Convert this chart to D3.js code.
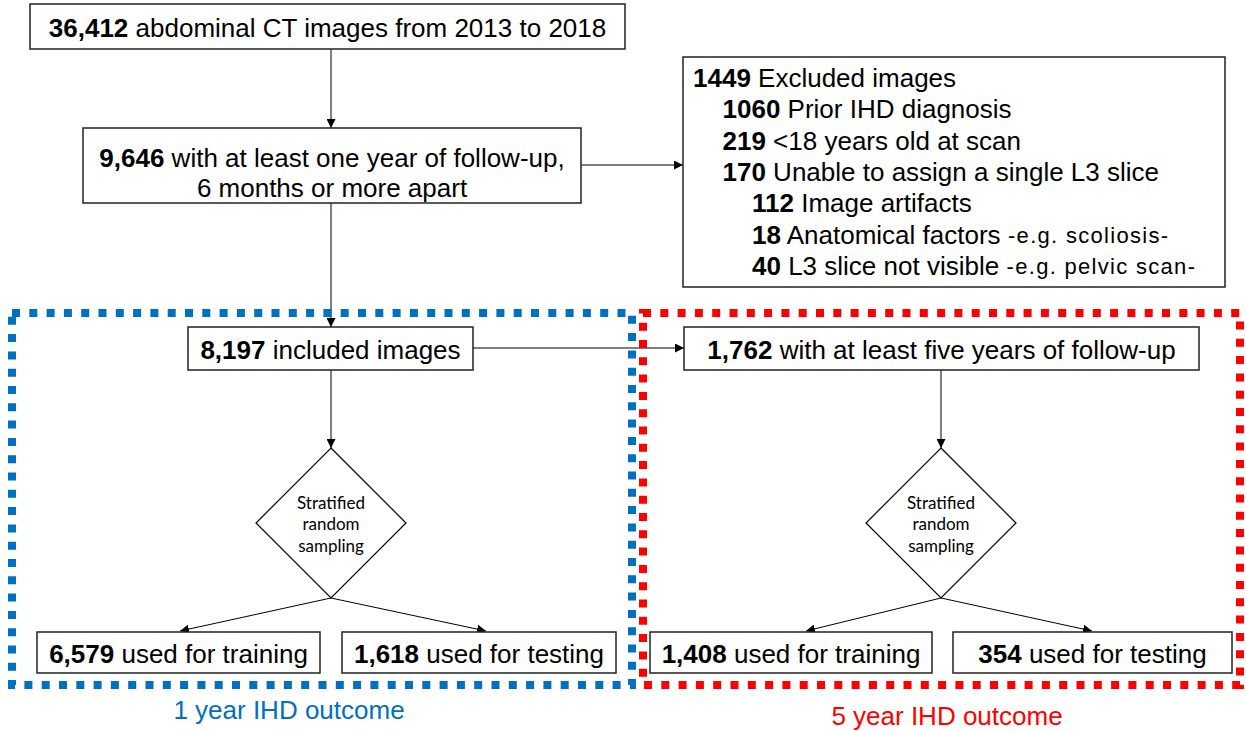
<!DOCTYPE html>
<html>
<head>
<meta charset="utf-8">
<script src="https://cdn.jsdelivr.net/npm/d3@7"></script>
<style>
  body { margin: 0; background: #fff; }
  svg text { font-family: "Liberation Sans", Arial, sans-serif; fill: #000; }
</style>
</head>
<body>
<div id="chart"></div>
<script>
// Flowchart values
const flowCounts = ["36,412", "9,646", "8,197", "1,762", "6,579", "1,618", "1,408", "354"];
const flowLabels = [
  "abdominal CT images from 2013 to 2018",
  "with at least one year of follow-up,",
  "included images",
  "with at least five years of follow-up",
  "used for training",
  "used for testing",
  "used for training",
  "used for testing"
];
const excludedCounts = ["1449", "1060", "219", "170", "112", "18", "40"];
const excludedLabels = ["Excluded images", "Prior IHD diagnosis", "<18 years old at scan",
  "Unable to assign a single L3 slice", "Image artifacts", "Anatomical factors", "L3 slice not visible"];
const excludedNotes = ["", "", "", "", "", "-e.g. scoliosis-", "-e.g. pelvic scan-"];
const excludedLevels = [0, 1, 1, 1, 2, 2, 2];
const groupLabels = ["1 year IHD outcome", "5 year IHD outcome"];
const groupColors = ["#0070C0", "#FF0000"];

const width = 1246, height = 732;
const mainSize = 26;

var svg = d3.select("#chart").append("svg")
  .attr("width", width)
  .attr("height", height);

// arrow marker
svg.append("defs").append("marker")
  .attr("id", "arrow")
  .attr("viewBox", "0 0 10 10")
  .attr("refX", 10).attr("refY", 5)
  .attr("markerWidth", 9).attr("markerHeight", 9)
  .attr("markerUnits", "userSpaceOnUse")
  .attr("orient", "auto")
  .append("path")
  .attr("d", "M0,0 L10,5 L0,10 z")
  .attr("fill", "#000");

// box positions (layout only)
const boxes = [
  {x0: 30, x1: 625, y0: 4, y1: 49},
  {x0: 83, x1: 581, y0: 128, y1: 203},
  {x0: 188, x1: 473, y0: 327, y1: 370},
  {x0: 684, x1: 1199, y0: 327, y1: 370},
  {x0: 37, x1: 320, y0: 632, y1: 673},
  {x0: 342, x1: 616, y0: 632, y1: 673},
  {x0: 650, x1: 932, y0: 632, y1: 673},
  {x0: 953, x1: 1232, y0: 632, y1: 673}
];
const exclBox = {x0: 683, x1: 1225, y0: 57, y1: 287};

// dotted group frames
const frames = [
  {x0: 12, x1: 632, y0: 313, y1: 685, labelX: 289, labelY: 710},
  {x0: 643, x1: 1240, y0: 313, y1: 685, labelX: 947, labelY: 716}
];

// connectors
const lineG = svg.append("g").attr("stroke", "#000").attr("stroke-width", 1).attr("fill", "none");
function connect(x1, y1, x2, y2, arrow) {
  lineG.append("line")
    .attr("x1", x1).attr("y1", y1).attr("x2", x2).attr("y2", y2)
    .attr("marker-end", arrow ? "url(#arrow)" : null);
}
connect(331, boxes[0].y1, 331, boxes[1].y0, true);
connect(boxes[1].x1, 165, exclBox.x0, 165, true);
connect(331, boxes[1].y1, 331, boxes[2].y0, true);
connect(boxes[2].x1, 348, boxes[3].x0, 348, true);

// diamonds
const diamonds = [{cx: 331, cy: 523}, {cx: 941, cy: 523}];
const dHalfW = 75, dHalfH = 75;
connect(331, boxes[2].y1, 331, diamonds[0].cy - dHalfH, true);
connect(941, boxes[3].y1, 941, diamonds[1].cy - dHalfH, true);
connect(331, diamonds[0].cy + dHalfH, 180, boxes[4].y0 - 1, true);
connect(331, diamonds[0].cy + dHalfH, 486, boxes[5].y0 - 1, true);
connect(941, diamonds[1].cy + dHalfH, 806, boxes[6].y0 - 1, true);
connect(941, diamonds[1].cy + dHalfH, 1092, boxes[7].y0 - 1, true);

svg.selectAll(".diamond")
  .data(diamonds)
  .enter().append("path")
  .attr("class", "diamond")
  .attr("d", d => `M${d.cx},${d.cy - dHalfH} L${d.cx + dHalfW},${d.cy} L${d.cx},${d.cy + dHalfH} L${d.cx - dHalfW},${d.cy} Z`)
  .attr("fill", "#fff").attr("stroke", "#000").attr("stroke-width", 1.2);

diamonds.forEach(d => {
  ["Stratified", "random", "sampling"].forEach((t, i) => {
    svg.append("text")
      .attr("x", d.cx).attr("y", d.cy - 21 + i * 21.5)
      .attr("text-anchor", "middle")
      .attr("dominant-baseline", "central")
      .style("font-family", "Lato, 'Open Sans', sans-serif")
      .style("font-size", "17px")
      .text(t);
  });
});

// frames
svg.selectAll(".frame")
  .data(frames)
  .enter().append("rect")
  .attr("class", "frame")
  .attr("x", d => d.x0).attr("y", d => d.y0)
  .attr("width", d => d.x1 - d.x0).attr("height", d => d.y1 - d.y0)
  .attr("fill", "none")
  .attr("stroke", (d, i) => groupColors[i])
  .attr("stroke-width", 8)
  .attr("stroke-dasharray", "8 9.3");

svg.selectAll(".groupLabel")
  .data(frames)
  .enter().append("text")
  .attr("class", "groupLabel")
  .attr("x", d => d.labelX).attr("y", d => d.labelY)
  .attr("text-anchor", "middle")
  .attr("dominant-baseline", "central")
  .style("font-size", mainSize + "px")
  .style("fill", (d, i) => groupColors[i])
  .text((d, i) => groupLabels[i]);

// boxes
svg.selectAll(".box")
  .data(boxes)
  .enter().append("rect")
  .attr("class", "box")
  .attr("x", d => d.x0).attr("y", d => d.y0)
  .attr("width", d => d.x1 - d.x0).attr("height", d => d.y1 - d.y0)
  .attr("fill", "#fff").attr("stroke", "#222").attr("stroke-width", 1.5);

boxes.forEach((b, i) => {
  const cx = (b.x0 + b.x1) / 2;
  const cy = i === 1 ? 158 : (b.y0 + b.y1) / 2 + 1;
  const t = svg.append("text")
    .attr("x", cx).attr("y", cy)
    .attr("text-anchor", "middle")
    .attr("dominant-baseline", "central")
    .style("font-size", mainSize + "px");
  t.append("tspan").style("font-weight", "bold").text(flowCounts[i]);
  t.append("tspan").text(" " + flowLabels[i]);
});
svg.append("text")
  .attr("x", 332).attr("y", 188)
  .attr("text-anchor", "middle")
  .attr("dominant-baseline", "central")
  .style("font-size", mainSize + "px")
  .text("6 months or more apart");

// excluded box
svg.append("rect")
  .attr("x", exclBox.x0).attr("y", exclBox.y0)
  .attr("width", exclBox.x1 - exclBox.x0).attr("height", exclBox.y1 - exclBox.y0)
  .attr("fill", "#fff").attr("stroke", "#222").attr("stroke-width", 1.5);

excludedCounts.forEach((c, i) => {
  const t = svg.append("text")
    .attr("x", 693 + excludedLevels[i] * 29.5)
    .attr("y", 78 + i * 31.3)
    .attr("dominant-baseline", "central")
    .style("font-size", mainSize + "px");
  t.append("tspan").style("font-weight", "bold").text(c);
  t.append("tspan").text(" " + excludedLabels[i]);
  if (excludedNotes[i]) t.append("tspan")
    .style("font-size", "22px")
    .style("letter-spacing", "1.3px")
    .text(" " + excludedNotes[i]);
});
</script>
</body>
</html>
